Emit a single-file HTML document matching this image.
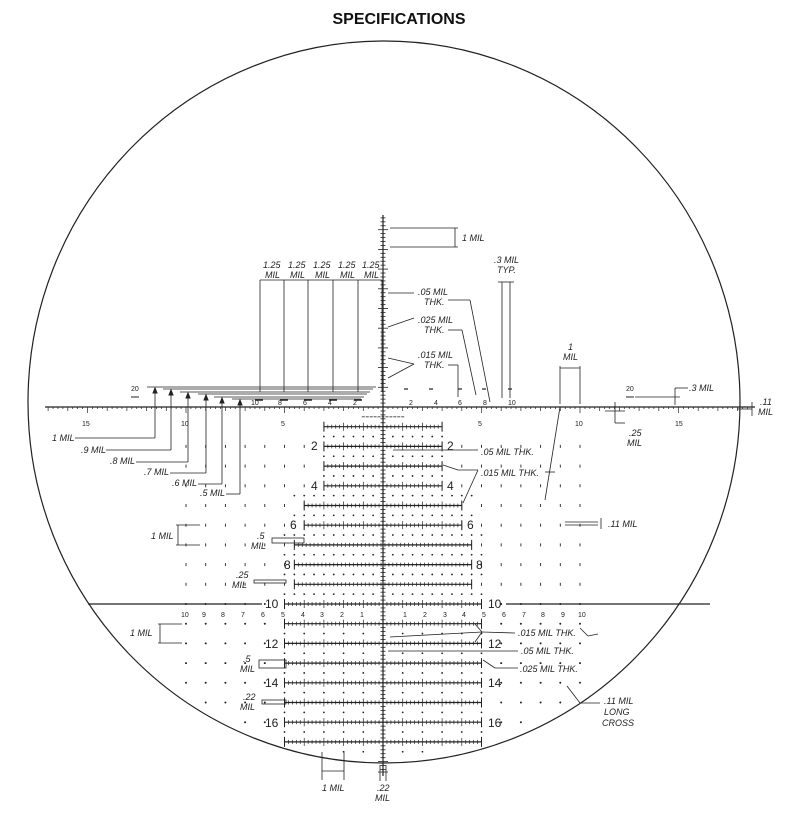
<!DOCTYPE html>
<html><head><meta charset="utf-8"><style>
html,body{margin:0;padding:0;background:#fff;}
svg{display:block}
text{font-family:"Liberation Sans",Arial,sans-serif;fill:#222}
.i{font-style:italic;font-size:9px}
.s{font-size:7px}
.n{font-size:12px}
</style></head><body>
<svg id="s" width="798" height="820" viewBox="0 0 798 820" xmlns="http://www.w3.org/2000/svg">
<text x="399" y="24" text-anchor="middle" style="font-weight:bold;font-size:16px;fill:#111">SPECIFICATIONS</text>
<ellipse cx="384" cy="402" rx="356" ry="361" fill="none" stroke="#222" stroke-width="1.2"/>
<g id="g" stroke="#222" fill="none"></g>
<g class="i">
<text x="462" y="241">1 MIL</text>
<text x="263" y="268">1.25</text><text x="265" y="278">MIL</text>
<text x="288" y="268">1.25</text><text x="290" y="278">MIL</text>
<text x="313" y="268">1.25</text><text x="315" y="278">MIL</text>
<text x="338" y="268">1.25</text><text x="340" y="278">MIL</text>
<text x="362" y="268">1.25</text><text x="364" y="278">MIL</text>
<text x="494" y="263">.3 MIL</text><text x="497" y="273">TYP.</text>
<text x="418" y="295">.05 MIL</text><text x="424" y="305">THK.</text>
<text x="418" y="323">.025 MIL</text><text x="424" y="333">THK.</text>
<text x="418" y="358">.015 MIL</text><text x="424" y="368">THK.</text>
<text x="568" y="350">1</text><text x="563" y="360">MIL</text>
<text x="689" y="391">.3 MIL</text>
<text x="760" y="405">.11</text><text x="758" y="415">MIL</text>
<text x="629" y="436">.25</text><text x="627" y="446">MIL</text>
<text x="52" y="441">1 MIL</text>
<text x="81" y="453">.9 MIL</text>
<text x="110" y="464">.8 MIL</text>
<text x="144" y="475">.7 MIL</text>
<text x="172" y="486">.6 MIL</text>
<text x="200" y="496">.5 MIL</text>
<text x="481" y="455">.05 MIL THK.</text>
<text x="481" y="476">.015 MIL THK.</text>
<text x="608" y="527">.11 MIL</text>
<text x="151" y="539">1 MIL</text>
<text x="257" y="539">.5</text><text x="251" y="549">MIL</text>
<text x="236" y="578">.25</text><text x="232" y="588">MIL</text>
<text x="130" y="636">1 MIL</text>
<text x="518" y="636">.015 MIL THK.</text>
<text x="521" y="654">.05 MIL THK.</text>
<text x="520" y="672">.025 MIL THK.</text>
<text x="243" y="662">.5</text><text x="240" y="672">MIL</text>
<text x="243" y="700">.22</text><text x="240" y="710">MIL</text>
<text x="604" y="704">.11 MIL</text><text x="604" y="715">LONG</text><text x="602" y="726">CROSS</text>
<text x="322" y="791">1 MIL</text>
<text x="377" y="791">.22</text><text x="375" y="801">MIL</text>
</g>
<g class="s">
<text x="131" y="391">20</text><text x="626" y="391">20</text>
<text x="82" y="426">15</text><text x="181" y="426">10</text><text x="281" y="426">5</text>
<text x="478" y="426">5</text><text x="575" y="426">10</text><text x="675" y="426">15</text>
<text x="251" y="405">10</text><text x="278" y="405">8</text><text x="303" y="405">6</text><text x="328" y="405">4</text><text x="353" y="405">2</text>
<text x="409" y="405">2</text><text x="434" y="405">4</text><text x="458" y="405">6</text><text x="483" y="405">8</text><text x="508" y="405">10</text>
<text x="181" y="617">10</text><text x="202" y="617">9</text><text x="221" y="617">8</text><text x="241" y="617">7</text><text x="261" y="617">6</text>
<text x="281" y="617">5</text><text x="301" y="617">4</text><text x="320" y="617">3</text><text x="340" y="617">2</text><text x="360" y="617">1</text>
<text x="403" y="617">1</text><text x="423" y="617">2</text><text x="443" y="617">3</text><text x="462" y="617">4</text><text x="482" y="617">5</text>
<text x="502" y="617">6</text><text x="522" y="617">7</text><text x="541" y="617">8</text><text x="561" y="617">9</text><text x="578" y="617">10</text>
</g>
<g class="n">
<text x="311" y="450">2</text><text x="447" y="450">2</text>
<text x="311" y="490">4</text><text x="447" y="490">4</text>
<text x="290" y="529">6</text><text x="467" y="529">6</text>
<text x="284" y="569">8</text><text x="476" y="569">8</text>
<text x="265" y="608">10</text><text x="488" y="608">10</text>
<text x="265" y="648">12</text><text x="488" y="648">12</text>
<text x="265" y="687">14</text><text x="488" y="687">14</text>
<text x="265" y="727">16</text><text x="488" y="727">16</text>
</g>
</svg>
<script>
var g=document.getElementById('g'),S=19.7,CX=383,CY=407,h='';
function L(a,b,c,d,w){h+='<line x1="'+a+'" y1="'+b+'" x2="'+c+'" y2="'+d+'" stroke-width="'+(w||1)+'"/>';}
function D(x,y,r){h+='<circle cx="'+x+'" cy="'+y+'" r="'+(r||0.9)+'" fill="#222" stroke="none"/>';}
function X(m){return CX+S*m;}function Y(m){return CY+S*m;}
function inE(x,y,m){var dx=(x-384)/(356-m),dy=(y-402)/(361-m);return dx*dx+dy*dy<1;}
L(45,407,755,407,1.2);
for(var m=-17;m<=18.6;m+=0.25){var x=X(m);if(x<46||x>754)continue;var k=Math.abs(m-Math.round(m))<0.01;L(x,407,x,k?(Math.round(m)%5==0?413:411):409,0.7);}
L(383,215,383,776,1.2);
for(var m=-9.6;m<=18.5;m+=0.2){var y=Y(m);var k=Math.abs(m-Math.round(m))<0.01;var w=k?5:2.5;L(383-w,y,383+w,y,0.8);}
L(88,604,262,604,1.2);L(506,604,710,604,1.2);
function lad(r,e){var y=Y(r);L(X(-e),y,X(e),y,1.2);L(X(-e),y-5,X(-e),y+5,1);L(X(e),y-5,X(e),y+5,1);
 for(var m=-e;m<=e+0.01;m+=0.2){var k=Math.abs(m-Math.round(m))<0.01;L(X(m),y-(k?4:2),X(m),y+(k?4:2),0.7);if(r<=6&&k&&Math.abs(m)==2)D(X(m),y+2,2);}}
for(var r=1;r<=4;r++)lad(r,3);lad(5,4);lad(6,4);for(r=7;r<=9;r++)lad(r,4.5);for(r=10;r<=17;r++)lad(r,5);
for(var m=-1;m<=1;m+=0.2)L(X(m)-1.5,Y(0.5),X(m)+1.5,Y(0.5),0.8);
for(var r=1.5;r<=17.5;r+=1){if(r==10.5)continue;var e=r<4.5?3:r<6.5?4.5:5;for(var m=-e;m<=e+0.01;m+=(r<10?0.5:1)){if(Math.abs(m)<0.1)continue;var x=X(m),y=Y(r);if(inE(x,y,8))D(x,y,0.9);}}
for(var r=2;r<=17;r++){var e=r<=4?3:r<=6?4:r<=9?4.5:5;for(var m=Math.floor(e)+1;m<=10;m++){[-1,1].forEach(function(sg){var x=X(sg*m),y=Y(r);if(inE(x,y,8)){if(r<10)L(x,y-1.5,x,y+1.5,0.9);else D(x,y,1);}});}}
var lx=[155,171,188,206,222,240],ly=[387,389,392,394,397,399],ty=[438,450,462,473,484,494],tx=[75,106,136,170,198,226];
for(var i=0;i<6;i++){L(lx[i]-8,ly[i],376-i*3,ly[i],0.8);L(lx[i],ly[i]+2,lx[i],ty[i],0.8);L(lx[i],ty[i],tx[i],ty[i],0.8);h+='<path d="M'+(lx[i]-2)+' '+(ly[i]+6)+'L'+lx[i]+' '+(ly[i]+1)+'L'+(lx[i]+2)+' '+(ly[i]+6)+'Z" fill="#222"/>';}
L(131,397,139,397,1);L(626,397,634,397,1);
[259,284,308,333,358].forEach(function(x){L(x-4,400,x+4,400,1.5);});
[408,433,458,482,508].forEach(function(x,i){L(x+(i<2?-4:0),389,x+4+(i<2?-4:0),389,1.2);});
[260,284,308,333,358,382].forEach(function(x){L(x,280,x,392,0.8);});L(260,280,382,280,0.8);
L(390,228,458,228,0.8);L(390,247,458,247,0.8);L(455,228,455,247,0.8);
L(388,293,414,293,0.8);L(448,300,470,300,0.8);L(470,300,490,402,0.8);
L(388,327,414,318,0.8);L(448,330,462,330,0.8);L(462,330,476,395,0.8);
L(388,358,414,364,0.8);L(388,378,414,364,0.8);L(448,365,458,365,0.8);L(458,365,458,397,0.8);
L(502,282,502,398,0.8);L(510,282,510,398,0.8);L(498,282,514,282,0.8);
L(560,366,560,404,0.8);L(580,366,580,404,0.8);L(560,368,580,368,0.8);
L(560,407,545,500,0.8);L(545,472,555,472,0.8);
L(675,388,688,388,0.8);L(675,388,675,405,0.8);L(635,397,680,397,0.8);
L(615,402,615,423,0.8);L(615,423,625,423,0.8);L(605,411,625,411,0.8);
L(737,409,752,409,0.8);L(752,402,752,416,0.8);
L(393,450,478,450,0.8);L(443,465,458,470,0.8);L(458,470,478,470,0.8);L(478,470,463,503,0.8);
L(565,522,598,522,0.8);L(565,525,598,525,0.8);L(601,518,601,529,0.8);
L(176,525,200,525,0.8);L(176,545,200,545,0.8);L(178,525,178,545,0.8);
h+='<rect x="272" y="538" width="32" height="5" fill="none" stroke-width="0.8"/>';
h+='<rect x="254" y="580" width="32" height="3" fill="none" stroke-width="0.8"/>';
L(158,624,182,624,0.8);L(158,643,182,643,0.8);L(160,624,160,643,0.8);
h+='<rect x="259" y="660" width="27" height="8" fill="none" stroke-width="0.8"/>';
h+='<rect x="262" y="700" width="24" height="4" fill="none" stroke-width="0.8"/>';
L(390,637,482,632,0.8);L(482,632,515,633,0.8);L(475,624,482,632,0.8);L(475,642,482,632,0.8);
L(580,628,588,636,0.8);L(588,636,598,634,0.8);
L(388,651,518,651,0.8);L(483,660,495,668,0.8);L(495,668,518,668,0.8);
L(567,686,580,703,0.8);L(580,703,600,703,0.8);
L(322,752,322,780,0.8);L(344,752,344,780,0.8);L(322,771,344,771,0.8);
L(380,765,380,781,0.8);L(386,765,386,781,0.8);L(378,772,388,772,0.8);
g.innerHTML=h;
</script>
</body></html>
